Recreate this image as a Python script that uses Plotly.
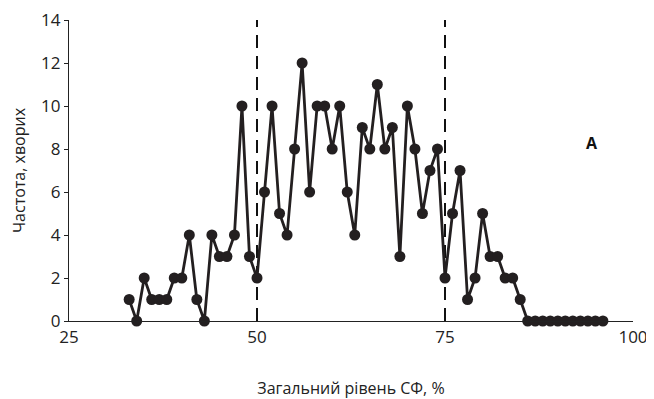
import plotly.graph_objects as go

x_vals = list(range(33, 97))
freq = [1, 0, 2, 1, 1, 1, 2, 2, 4, 1, 0, 4, 3, 3, 4, 10, 3, 2, 6, 10,
        5, 4, 8, 12, 6, 10, 10, 8, 10, 6, 4, 9, 8, 11, 8, 9, 3, 10, 8, 5,
        7, 8, 2, 5, 7, 1, 2, 5, 3, 3, 2, 2, 1, 0, 0, 0, 0, 0, 0, 0,
        0, 0, 0, 0]
x_ticks = [25, 50, 75, 100]
y_ticks = [0, 2, 4, 6, 8, 10, 12, 14]
cutoffs = [50, 75]

ink = "#231f20"
font = "Open Sans, Noto Sans, sans-serif"

fig = go.Figure()
for c in cutoffs:
    fig.add_trace(go.Scatter(x=[c, c], y=[0, 14.2], mode="lines",
                             line=dict(color="#111111", width=2, dash="13px,8px"),
                             hoverinfo="skip", showlegend=False, cliponaxis=False))
fig.add_trace(go.Scatter(x=x_vals, y=freq, mode="lines+markers",
                         line=dict(color=ink, width=2.8),
                         marker=dict(color=ink, size=11),
                         cliponaxis=False, showlegend=False))

fig.add_annotation(x=94.5, y=8.3, text="<b>A</b>", showarrow=False,
                   font=dict(family=font, size=16, color="#111111"))

# page body has an 8px default margin, so the figure is sized to fit inside it
fig.update_layout(
    width=646, height=391,
    margin=dict(l=61, r=21, t=12, b=78),
    plot_bgcolor="white", paper_bgcolor="white",
    font=dict(family=font, size=17, color="#222222"),
    xaxis=dict(range=[25, 100], tickvals=x_ticks, showgrid=False, zeroline=False,
               showline=True, linecolor="#222222", linewidth=1.2, ticks="",
               ticklen=0, automargin=False, ticklabeloverflow="allow",
               title=dict(text="Загальний рівень СФ, %", standoff=42,
                          font=dict(size=16))),
    yaxis=dict(range=[0, 14], tickvals=y_ticks, showgrid=False, zeroline=False,
               showline=True, linecolor="#222222", linewidth=1.2, ticks="outside",
               ticklen=4, tickcolor="#222222", automargin=False,
               ticklabeloverflow="allow",
               title=dict(text="Частота, хворих", standoff=16, font=dict(size=16))),
)

fig.write_html("out.html")
